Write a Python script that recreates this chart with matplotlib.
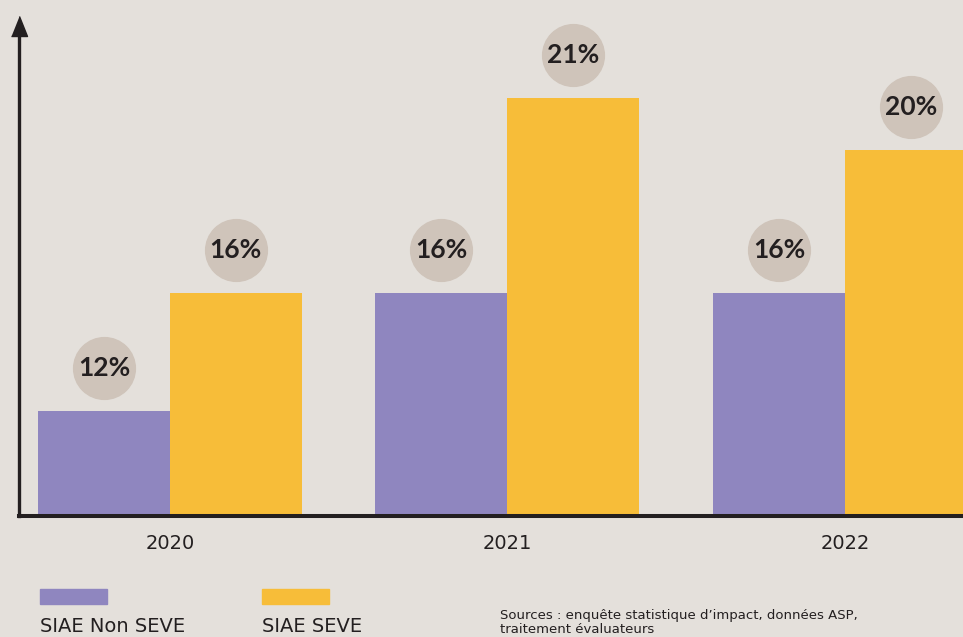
import matplotlib
matplotlib.use("Agg")
import matplotlib.pyplot as plt
from matplotlib.patches import Rectangle
from matplotlib.transforms import offset_copy
import numpy as np

# data (bars drawn on a truncated axis)
years = ["2020", "2021", "2022"]
non_seve = [12.4, 15.8, 15.8]
seve = [15.8, 21.4, 19.9]
series_names = ["SIAE Non SEVE", "SIAE SEVE"]
source_note = "Sources : enquête statistique d\u2019impact, données ASP,\ntraitement évaluateurs"

bg = "#E4E0DB"
purple = "#8F86BF"
yellow = "#F7BD39"
bubble = "#CFC4BA"
dark = "#231F20"

W, H = 963, 637
fig = plt.figure(figsize=(W / 100, H / 100), dpi=100, facecolor=bg)
ax = fig.add_axes([19 / W, (H - 516) / H, (W - 19) / W, (516 - 36) / H])
ax.set_facecolor(bg)

x = np.arange(len(years))
w = 0.391
ax.bar(x - w / 2, non_seve, w, color=purple, bottom=0)
ax.bar(x + w / 2, seve, w, color=yellow, bottom=0)

ax.set_ylim(9.4, 23.17)
ax.set_xlim(-0.447, 2.35)

# percentage bubbles above the bars
lift = offset_copy(ax.transData, fig=fig, x=0, y=43, units="dots")
for xs, vals in [(x - w / 2, non_seve), (x + w / 2, seve)]:
    for xi, v in zip(xs, vals):
        ax.plot(xi, v, marker="o", markersize=44.5, color=bubble,
                transform=lift, clip_on=False, zorder=3)
        ax.text(xi, v, f"{round(v)}%", transform=lift, ha="center", va="center",
                fontsize=19, fontweight="bold", family="Lato", color=dark,
                zorder=4, clip_on=False)

# axes: only left + bottom, arrow on top of y axis
for s in ["top", "right"]:
    ax.spines[s].set_visible(False)
ax.spines["left"].set_linewidth(2.4)
ax.spines["bottom"].set_linewidth(2.9)
ax.spines["left"].set_color(dark)
ax.spines["bottom"].set_color(dark)
ax.spines["left"].set_zorder(5)
ax.spines["bottom"].set_zorder(5)
ax.plot(0, 1, transform=ax.transAxes, marker=[(-8, 0), (8, 0), (0, 20)],
        markersize=28.8, color=dark, clip_on=False, zorder=6)

ax.set_yticks([])
ax.set_xticks(x)
ax.set_xticklabels(years, fontsize=14, color=dark)
ax.tick_params(axis="x", length=0, pad=13)

# legend drawn by hand: swatch above label
for i, (name, col) in enumerate(zip(series_names, [purple, yellow])):
    x0 = 40 + i * 222
    fig.add_artist(Rectangle((x0 / W, (H - 604) / H), 67 / W, 15 / H,
                             transform=fig.transFigure, color=col))
    fig.text(x0 / W, (H - 617) / H, name, fontsize=14, color=dark,
             va="top", ha="left")

fig.text(500 / W, (H - 609) / H, source_note, fontsize=9.5, color=dark,
         va="top", ha="left", linespacing=1.1)

fig.savefig("out.png", dpi=100, facecolor=bg)
